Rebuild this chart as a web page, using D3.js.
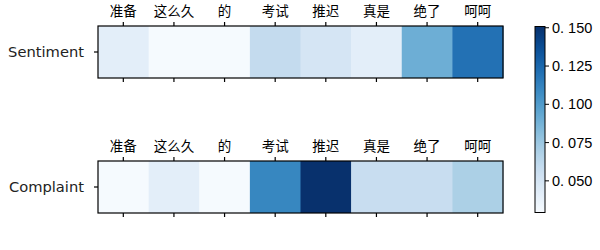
<!DOCTYPE html>
<html><head><meta charset="utf-8">
<script src="https://cdn.jsdelivr.net/npm/d3@7"></script>
<style>body{margin:0;background:#fff}</style>
</head><body>
<svg id="c" width="600" height="250"></svg>
<script>
const tokens = ["准备","这么久","的","考试","推迟","真是","绝了","呵呵"];
const rowNames = ["Sentiment","Complaint"];
const sentimentVals = [0.041,0.030,0.030,0.059,0.050,0.041,0.0895,0.120];
const complaintVals = [0.030,0.041,0.030,0.110,0.150,0.057,0.057,0.069];
const cbTicks = [0.050,0.075,0.100,0.125,0.150];
const vmin = 0.029, vmax = 0.1505;

const svg = d3.select("#c");
const color = d3.scaleSequential(d3.interpolateBlues).domain([vmin,vmax]);
const x = d3.scaleBand().domain(tokens).range([98,503]).padding(0);
const panels = [
  {name:rowNames[0], vals:sentimentVals, y0:26, y1:78},
  {name:rowNames[1], vals:complaintVals, y0:161, y1:213}
];
const cjk = "'Noto Sans CJK SC', sans-serif";
panels.forEach(p=>{
  const g = svg.append("g");
  g.selectAll("rect.cell").data(p.vals).join("rect")
    .attr("x",(d,i)=>x(tokens[i])).attr("y",p.y0)
    .attr("width",x.bandwidth()+0.5).attr("height",p.y1-p.y0)
    .attr("fill",d=>color(d));
  g.append("rect").attr("x",98).attr("y",p.y0).attr("width",405).attr("height",p.y1-p.y0)
    .attr("fill","none").attr("stroke","#000").attr("stroke-width",1.2);
  const top = d3.axisTop(x).tickSize(4).tickPadding(6);
  const ta = g.append("g").attr("transform",`translate(0,${p.y0})`).call(top);
  ta.select(".domain").remove();
  ta.selectAll("text").attr("font-family",cjk).attr("font-size",13.5).attr("fill","#000");
  ta.selectAll("line").attr("stroke-width",1.2);
  const bot = d3.axisBottom(x).tickSize(4).tickFormat("");
  const ba = g.append("g").attr("transform",`translate(0,${p.y1})`).call(bot);
  ba.select(".domain").remove();
  ba.selectAll("line").attr("stroke-width",1.2);
  const y = d3.scaleBand().domain([p.name]).range([p.y0,p.y1]);
  const la = g.append("g").attr("transform","translate(98,0)").call(d3.axisLeft(y).tickSize(4).tickPadding(10));
  la.select(".domain").remove();
  la.selectAll("text").attr("font-family","'DejaVu Sans', sans-serif").attr("font-size",14.7).attr("fill","#222");
  la.selectAll("line").attr("stroke-width",1.2);
});

// colorbar
const cbX = 535, cbW = 10, cbTop = 26.5, cbBot = 212.5;
const cy = d3.scaleLinear().domain([vmin,vmax]).range([cbBot,cbTop]);
const defs = svg.append("defs");
const grad = defs.append("linearGradient").attr("id","cbg").attr("x1",0).attr("y1",1).attr("x2",0).attr("y2",0);
d3.range(0,1.0001,0.05).forEach(t=>{
  grad.append("stop").attr("offset",t).attr("stop-color",d3.interpolateBlues(t));
});
svg.append("rect").attr("x",cbX).attr("y",cbTop).attr("width",cbW).attr("height",cbBot-cbTop)
  .attr("fill","url(#cbg)").attr("stroke","#000").attr("stroke-width",1);
const ca = svg.append("g").attr("transform",`translate(${cbX+cbW},0)`)
  .call(d3.axisRight(cy).tickValues(cbTicks).tickSize(4).tickPadding(3).tickFormat(""));
ca.select(".domain").remove();
ca.selectAll("line").attr("stroke-width",1);
ca.selectAll(".tick").append("text")
  .attr("x",7).attr("dy","0.35em")
  .attr("font-family","'Liberation Sans', sans-serif").attr("font-size",14.5).attr("fill","#000")
  .each(function(d){
    const s = d3.format(".3f")(d).split(".");
    const t = d3.select(this);
    t.append("tspan").text(s[0]+".");
    t.append("tspan").attr("dx",4).text(s[1]);
  });
</script>
</body></html>
